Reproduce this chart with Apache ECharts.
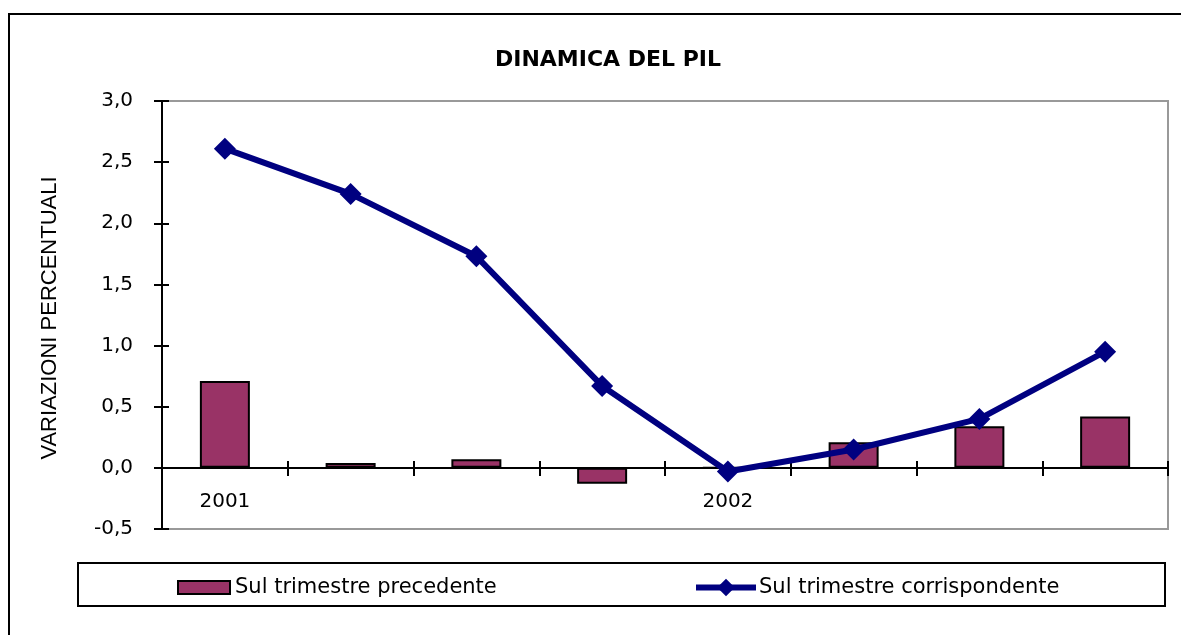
<!DOCTYPE html>
<html>
<head>
    <meta charset="UTF-8">
    <title>Dinamica del PIL</title>
    <script src="https://cdn.jsdelivr.net/npm/echarts@6/dist/echarts.min.js"></script>
    <style>
        html, body { margin: 0; padding: 0; background: #fff; }
        #chart { width: 1181px; height: 635px; }
    </style>
</head>
<body>
<div id="chart"></div>
<script>
    // dati
    var trimestri = ['I 2001', 'II 2001', 'III 2001', 'IV 2001', 'I 2002', 'II 2002', 'III 2002', 'IV 2002'];
    var etichetteAsse = ['2001', '', '', '', '2002', '', '', ''];
    var precedente = [0.71, 0.04, 0.07, -0.13, 0.0, 0.21, 0.34, 0.42];
    var corrispondente = [2.61, 2.24, 1.73, 0.67, -0.03, 0.15, 0.40, 0.95];

    var font = 'DejaVu Sans, Verdana, sans-serif';
    var chart = echarts.init(document.getElementById('chart'));

    var fmt = function (v) { return v.toFixed(1).replace('.', ','); };

    // l'asse x sta sullo zero: 0,5 unita' sopra il fondo della griglia
    var zeroOffset = -61;

    var option = {
        animation: false,
        textStyle: { fontFamily: font },
        title: {
            text: 'DINAMICA DEL PIL',
            left: 603, top: 44, textAlign: 'center',
            textStyle: { fontFamily: font, fontSize: 22, fontWeight: 'bold', color: '#000' }
        },
        graphic: [
            { type: 'rect', shape: { x: 9, y: 14, width: 1200, height: 650 },
              style: { fill: null, stroke: '#000', lineWidth: 2 }, z: -1 },
            { type: 'rect', shape: { x: 78, y: 563, width: 1087, height: 43 },
              style: { fill: null, stroke: '#000', lineWidth: 2 } },
            { type: 'text', x: 50, y: 318, rotation: Math.PI / 2,
              style: { text: 'VARIAZIONI PERCENTUALI', font: '22px Liberation Sans, Arial, sans-serif', fill: '#000',
                       align: 'center', verticalAlign: 'middle' } }
        ],
        legend: [{
            left: 172, top: 572,
            itemWidth: 52, itemHeight: 13,
            icon: 'rect',
            textStyle: { fontFamily: font, fontSize: 21, color: '#000' },
            data: ['Sul trimestre precedente']
        }, {
            left: 688, top: 572,
            itemWidth: 60, itemHeight: 22,
            itemGap: 4,
            textStyle: { fontFamily: font, fontSize: 21, color: '#000', padding: [0, 0, 0, -2] },
            lineStyle: { width: 6, color: '#000080' },
            data: ['Sul trimestre corrispondente']
        }],
        grid: {
            left: 162, right: 13, top: 101, bottom: 106,
            show: true, borderColor: '#999', borderWidth: 2, backgroundColor: '#fff'
        },
        xAxis: [{
            type: 'category',
            data: trimestri,
            position: 'bottom',
            offset: zeroOffset,
            axisLine: { onZero: false, lineStyle: { color: '#000', width: 2 } },
            axisTick: { show: true, length: 8, inside: false, lineStyle: { color: '#000', width: 2 } },
            axisLabel: {
                interval: 0, margin: 24, fontSize: 20, color: '#000', fontFamily: font,
                formatter: function (v, i) { return etichetteAsse[i]; }
            }
        }, {
            type: 'category',
            data: trimestri,
            position: 'bottom',
            offset: zeroOffset,
            axisLine: { show: false, onZero: false },
            axisTick: { show: true, length: 7, inside: true, lineStyle: { color: '#000', width: 2 } },
            axisLabel: { show: false }
        }],
        yAxis: [{
            type: 'value',
            min: -0.5, max: 3.0, interval: 0.5,
            splitLine: { show: false },
            axisLine: { show: true, lineStyle: { color: '#000', width: 2 } },
            axisTick: { show: true, length: 8, lineStyle: { color: '#000', width: 2 } },
            axisLabel: { fontSize: 20, color: '#000', fontFamily: font, margin: 29, formatter: fmt }
        }, {
            type: 'value',
            position: 'left',
            min: -0.5, max: 3.0, interval: 0.5,
            splitLine: { show: false },
            axisLine: { show: false },
            axisTick: { show: true, inside: true, length: 7, lineStyle: { color: '#000', width: 2 } },
            axisLabel: { show: false }
        }],
        series: [{
            name: 'Sul trimestre precedente',
            type: 'bar',
            data: precedente,
            barWidth: 50,
            itemStyle: { color: '#993366', borderColor: '#000', borderWidth: 2 }
        }, {
            name: 'Sul trimestre corrispondente',
            type: 'line',
            data: corrispondente,
            symbol: 'diamond',
            symbolSize: 22,
            lineStyle: { color: '#000080', width: 6 },
            itemStyle: { color: '#000080' },
            z: 3
        }]
    };

    chart.setOption(option);
</script>
</body>
</html>
